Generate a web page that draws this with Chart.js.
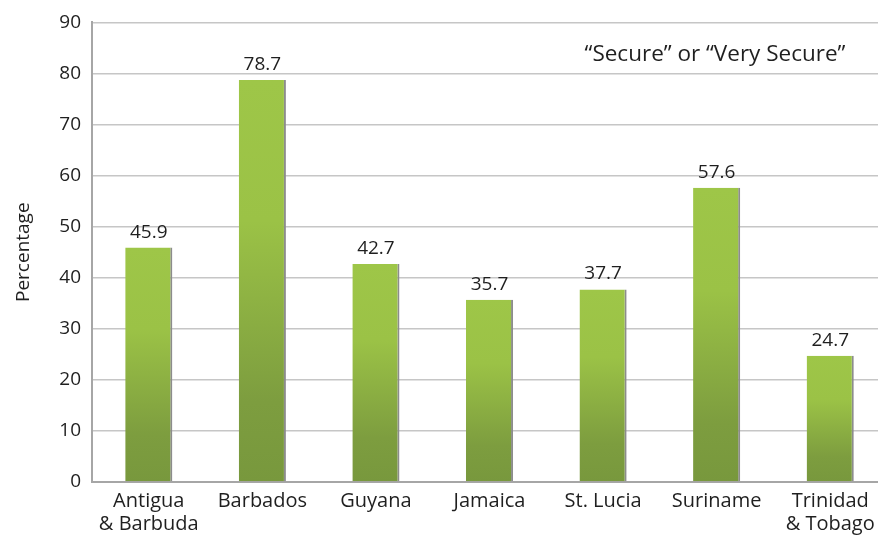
<!DOCTYPE html>
<html>
<head>
<meta charset="utf-8">
<script src="https://cdn.jsdelivr.net/npm/chart.js@4/dist/chart.umd.min.js"></script>
<style>
  html, body { margin: 0; padding: 0; background: #fff; overflow: hidden; }
  #wrap { width: 878px; height: 538px; overflow: hidden; }
  #box { width: 887px; height: 538px; }
</style>
</head>
<body>
<div id="wrap"><div id="box"><canvas id="secureChart"></canvas></div></div>
<script>
const countries = [
  ['Antigua', '& Barbuda'],
  'Barbados',
  'Guyana',
  'Jamaica',
  'St. Lucia',
  'Suriname',
  ['Trinidad', '& Tobago']
];
const secureShare = [45.9, 78.7, 42.7, 35.7, 37.7, 57.6, 24.7];
const yTicks = [0, 10, 20, 30, 40, 50, 60, 70, 80, 90];
const seriesLabel = '\u201CSecure\u201D or \u201CVery Secure\u201D';

const FONT = '"Open Sans", "Noto Sans", sans-serif';
const TEXT = '#1f1f1f';

// light green on top, fading to olive toward the base of each bar
function barFill(ctx) {
  const chart = ctx.chart;
  const area = chart.chartArea;
  if (!area || ctx.type !== 'data') return '#9cc447';
  const y = chart.scales.y;
  const top = y.getPixelForValue(ctx.raw);
  const bottom = y.getPixelForValue(0);
  const g = chart.ctx.createLinearGradient(0, top, 0, bottom);
  g.addColorStop(0, '#9ec648');
  g.addColorStop(0.35, '#9bc246');
  g.addColorStop(0.8, '#7d9d3f');
  g.addColorStop(1, '#78983d');
  return g;
}

const valueLabels = {
  id: 'valueLabels',
  afterDatasetsDraw(chart) {
    const ctx = chart.ctx;
    const meta = chart.getDatasetMeta(0);
    ctx.save();
    ctx.font = '19px ' + FONT;
    ctx.fillStyle = TEXT;
    ctx.textAlign = 'center';
    ctx.textBaseline = 'alphabetic';
    meta.data.forEach((bar, i) => {
      ctx.fillText(secureShare[i].toFixed(1), bar.x, bar.y - 10);
    });
    ctx.restore();
  }
};

const seriesNote = {
  id: 'seriesNote',
  afterDraw(chart) {
    const ctx = chart.ctx;
    ctx.save();
    ctx.font = '22.5px ' + FONT;
    ctx.fillStyle = TEXT;
    ctx.textAlign = 'center';
    ctx.textBaseline = 'middle';
    ctx.fillText(seriesLabel, 715, 55);
    ctx.restore();
  }
};

new Chart(document.getElementById('secureChart'), {
  type: 'bar',
  data: {
    labels: countries,
    datasets: [{
      label: seriesLabel,
      data: secureShare,
      backgroundColor: barFill,
      borderColor: '#8c8c8c',
      borderWidth: { top: 0, left: 0, bottom: 0, right: 2 },
      borderSkipped: false,
      categoryPercentage: 1,
      barPercentage: 0.415
    }]
  },
  options: {
    responsive: true,
    maintainAspectRatio: false,
    animation: false,
    layout: { padding: { top: 22, left: 0, right: 0, bottom: 0 } },
    plugins: {
      legend: { display: false },
      tooltip: { enabled: false }
    },
    scales: {
      x: {
        grid: { display: false, drawTicks: false },
        border: { color: '#a6a6a6', width: 2 },
        ticks: {
          color: TEXT,
          font: { family: FONT, size: 20, lineHeight: 1.15 },
          padding: 8,
          maxRotation: 0,
          autoSkip: false
        },
        afterFit(scale) { scale.height = 56; }
      },
      y: {
        min: 0,
        max: 90,
        afterBuildTicks(scale) { scale.ticks = yTicks.map(v => ({ value: v })); },
        grid: { color: '#c6c6c6', lineWidth: 1.5, drawTicks: false },
        border: { color: '#a6a6a6', width: 2 },
        ticks: {
          color: TEXT,
          font: { family: FONT, size: 19 },
          padding: 11
        },
        title: {
          display: true,
          text: 'Percentage',
          color: TEXT,
          font: { family: FONT, size: 19 },
          padding: { top: 12, bottom: 0 }
        },
        afterFit(scale) { scale.width = 92; }
      }
    }
  },
  plugins: [valueLabels, seriesNote]
});
</script>
</body>
</html>
